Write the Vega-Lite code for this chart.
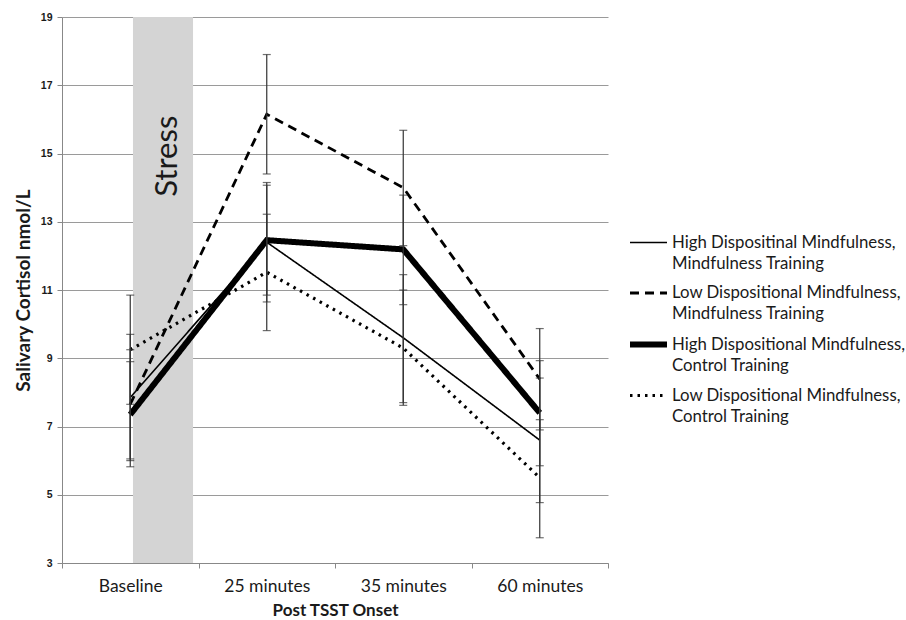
{
  "$schema": "https://vega.github.io/schema/vega-lite/v6.json",
  "width": 546,
  "height": 546,
  "autosize": "none",
  "padding": {"left": 62, "top": 17, "right": 298, "bottom": 57},
  "background": "white",
  "config": {"view": {"stroke": null}, "font": "Lato"},
  "datasets": {
    "cortisol": [
      {"series": "High Dispositinal Mindfulness, Mindfulness Training", "time": "Baseline", "mean": 7.85, "lo": 6.0, "hi": 9.7},
      {"series": "High Dispositinal Mindfulness, Mindfulness Training", "time": "25 minutes", "mean": 12.4, "lo": 10.65, "hi": 14.15},
      {"series": "High Dispositinal Mindfulness, Mindfulness Training", "time": "35 minutes", "mean": 9.6, "lo": 7.7, "hi": 11.45},
      {"series": "High Dispositinal Mindfulness, Mindfulness Training", "time": "60 minutes", "mean": 6.6, "lo": 4.77, "hi": 8.42},
      {"series": "Low Dispositional Mindfulness, Mindfulness Training", "time": "Baseline", "mean": 7.65, "lo": 6.05, "hi": 9.25},
      {"series": "Low Dispositional Mindfulness, Mindfulness Training", "time": "25 minutes", "mean": 16.15, "lo": 14.4, "hi": 17.9},
      {"series": "Low Dispositional Mindfulness, Mindfulness Training", "time": "35 minutes", "mean": 14.0, "lo": 12.3, "hi": 15.68},
      {"series": "Low Dispositional Mindfulness, Mindfulness Training", "time": "60 minutes", "mean": 8.39, "lo": 6.9, "hi": 9.87},
      {"series": "High Dispositional Mindfulness, Control Training", "time": "Baseline", "mean": 7.35, "lo": 5.82, "hi": 8.9},
      {"series": "High Dispositional Mindfulness, Control Training", "time": "25 minutes", "mean": 12.46, "lo": 10.85, "hi": 14.07},
      {"series": "High Dispositional Mindfulness, Control Training", "time": "35 minutes", "mean": 12.19, "lo": 10.57, "hi": 13.78},
      {"series": "High Dispositional Mindfulness, Control Training", "time": "60 minutes", "mean": 7.4, "lo": 5.85, "hi": 8.93},
      {"series": "Low Dispositional Mindfulness, Control Training", "time": "Baseline", "mean": 9.25, "lo": 7.65, "hi": 10.85},
      {"series": "Low Dispositional Mindfulness, Control Training", "time": "25 minutes", "mean": 11.52, "lo": 9.81, "hi": 13.22},
      {"series": "Low Dispositional Mindfulness, Control Training", "time": "35 minutes", "mean": 9.3, "lo": 7.62, "hi": 11.0},
      {"series": "Low Dispositional Mindfulness, Control Training", "time": "60 minutes", "mean": 5.5, "lo": 3.74, "hi": 7.2}
    ]
  },
  "resolve": {"scale": {"x": "independent"}, "axis": {"x": "independent"}},
  "layer": [
    {
      "data": {"values": [{"label": "Stress"}]},
      "layer": [
        {
          "mark": {"type": "rect", "color": "#d4d4d4"},
          "encoding": {
            "x": {"datum": 0.52, "type": "quantitative", "scale": {"domain": [0, 4], "nice": false}, "axis": null},
            "x2": {"datum": 0.96}
          }
        },
        {
          "mark": {"type": "text", "angle": 270, "fontSize": 31, "font": "Lato", "color": "#1a1a1a", "align": "center", "baseline": "middle"},
          "encoding": {
            "x": {"datum": 0.78, "type": "quantitative", "scale": {"domain": [0, 4], "nice": false}, "axis": null},
            "y": {"datum": 14.92, "type": "quantitative", "scale": {"domain": [3, 19], "nice": false, "zero": false}},
            "text": {"field": "label"}
          }
        }
      ]
    },
    {
      "data": {"name": "cortisol"},
      "encoding": {
        "x": {
          "field": "time",
          "type": "ordinal",
          "sort": ["Baseline", "25 minutes", "35 minutes", "60 minutes"],
          "scale": {"type": "band", "paddingInner": 0, "paddingOuter": 0},
          "axis": {
            "tickBand": "extent",
            "title": "Post TSST Onset",
            "labelAngle": 0,
            "labelFontSize": 17.5,
            "labelFont": "Lato",
            "labelColor": "#1a1a1a",
            "labelPadding": 9,
            "titleFontSize": 17,
            "titleFont": "Lato",
            "titleFontWeight": "bold",
            "titleColor": "#1a1a1a",
            "titlePadding": 8,
            "domainColor": "#888888",
            "tickColor": "#888888",
            "tickSize": 5,
            "grid": false
          }
        }
      },
      "layer": [
        {
          "mark": {"type": "line", "color": "#000000"},
          "encoding": {
            "y": {
              "field": "mean",
              "type": "quantitative",
              "scale": {"domain": [3, 19], "nice": false, "zero": false},
              "axis": {
                "values": [3, 5, 7, 9, 11, 13, 15, 17, 19],
                "grid": true,
                "gridColor": "#9a9a9a",
                "gridWidth": 1,
                "domainColor": "#888888",
                "tickColor": "#888888",
                "tickSize": 5,
                "labelFont": "Liberation Sans",
                "labelFontWeight": "bold",
                "labelFontSize": 10.5,
                "labelColor": "#1a1a1a",
                "labelPadding": 5,
                "title": "Salivary Cortisol nmol/L",
                "titleFont": "Lato",
                "titleFontSize": 19,
                "titleFontWeight": "bold",
                "titleColor": "#1a1a1a",
                "titlePadding": 7
              }
            },
            "strokeDash": {
              "field": "series",
              "type": "ordinal",
              "scale": {
                "type": "ordinal",
                "domain": ["High Dispositinal Mindfulness, Mindfulness Training", "Low Dispositional Mindfulness, Mindfulness Training", "High Dispositional Mindfulness, Control Training", "Low Dispositional Mindfulness, Control Training"],
                "range": [[1, 0], [9, 6], [1, 0], [2.5, 5]]
              },
              "legend": {
                "title": null, "orient": "none", "legendX": 565, "legendY": 206,
                "symbolType": "stroke", "symbolSize": 1369, "symbolStrokeColor": "#000000",
                "labelFontSize": 16.8, "labelFont": "Lato", "labelColor": "#1a1a1a", "labelLimit": 400,
                "labelOffset": 2, "rowPadding": 0, "padding": 0,
                "labelExpr": "[split(datum.label, ', ')[0] + ',', split(datum.label, ', ')[1]]",
                "encode": {"labels": {"update": {"lineHeight": {"value": 21}}}}
              }
            },
            "strokeWidth": {
              "field": "series",
              "type": "ordinal",
              "scale": {
                "type": "ordinal",
                "domain": ["High Dispositinal Mindfulness, Mindfulness Training", "Low Dispositional Mindfulness, Mindfulness Training", "High Dispositional Mindfulness, Control Training", "Low Dispositional Mindfulness, Control Training"],
                "range": [1.6, 2.8, 6, 3.2]
              },
              "legend": null
            }
          }
        },
        {
          "mark": {"type": "rule", "color": "#333333", "strokeWidth": 1.2},
          "encoding": {
            "y": {"field": "lo", "type": "quantitative"},
            "y2": {"field": "hi"}
          }
        },
        {
          "mark": {"type": "tick", "color": "#333333", "size": 8, "thickness": 1.2},
          "encoding": {"y": {"field": "lo", "type": "quantitative"}}
        },
        {
          "mark": {"type": "tick", "color": "#333333", "size": 8, "thickness": 1.2},
          "encoding": {"y": {"field": "hi", "type": "quantitative"}}
        }
      ]
    }
  ]
}
